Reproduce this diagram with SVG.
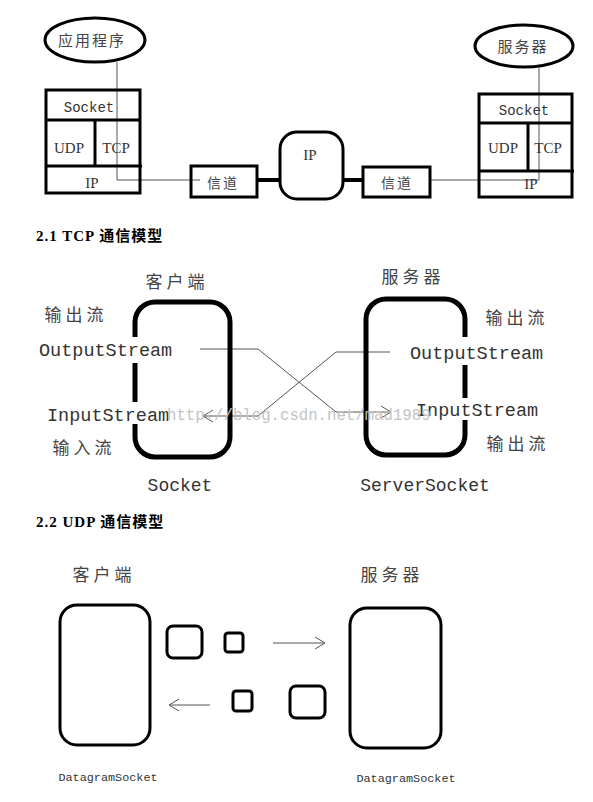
<svg xmlns="http://www.w3.org/2000/svg" width="593" height="802" viewBox="0 0 593 802">
<defs>
<style>
.thick{fill:none;stroke:#000;stroke-width:3}
.bold{fill:none;stroke:#000;stroke-width:5}
.thin{fill:none;stroke:#555;stroke-width:1}
.cj{font-family:"Noto Sans CJK SC",sans-serif;fill:#444}
.mono{font-family:"Liberation Mono",monospace;fill:#333}
.ser{font-family:"Liberation Serif",serif;fill:#333}
.head{font-family:"Liberation Serif","Noto Sans CJK SC",serif;font-weight:bold;font-size:15px;letter-spacing:1px;fill:#000}
.wm{font-family:"Liberation Mono",monospace;fill:#c4c4c4;font-size:15.7px}
</style>
<marker id="arr" markerWidth="12" markerHeight="14" refX="11" refY="7" orient="auto" markerUnits="userSpaceOnUse">
<path d="M1,1 L11,7 L1,13" fill="none" stroke="#555" stroke-width="1"/>
</marker>
</defs>
<rect width="593" height="802" fill="#fff"/>

<!-- connectors -->
<g id="connectors">
<polyline class="thin" points="117,62 117,180 200,180"/>
<polyline class="thin" points="430,180 539,180 539,68"/>
<line x1="257" y1="180" x2="280" y2="180" stroke="#000" stroke-width="4"/>
<line x1="343" y1="180" x2="363" y2="180" stroke="#000" stroke-width="4"/>
<polyline class="thin" points="200,349 258,349 336,412 391,412" marker-end="url(#arr)"/>
<polyline class="thin" points="390,352 336,352 258,416 203,416" marker-end="url(#arr)"/>
<line class="thin" x1="273" y1="643" x2="325" y2="643" marker-end="url(#arr)"/>
<line class="thin" x1="210" y1="705" x2="169" y2="705" marker-end="url(#arr)"/>
</g>

<!-- top diagram -->
<g id="app">
<ellipse cx="95" cy="40" rx="50" ry="22" class="thick"/>
<text x="92" y="46" class="cj" font-size="15" text-anchor="middle" letter-spacing="2">应用程序</text>
</g>
<g id="server-top">
<ellipse cx="524" cy="46" rx="49" ry="21" class="thick"/>
<text x="523" y="52" class="cj" font-size="15" text-anchor="middle" letter-spacing="2">服务器</text>
</g>
<g id="stack-left">
<rect x="46" y="90" width="94" height="103" class="thick"/>
<line x1="46" y1="120" x2="140" y2="120" class="thick"/>
<line x1="46" y1="166" x2="142" y2="166" class="thick"/>
<line x1="95" y1="120" x2="95" y2="166" class="thick"/>
<text x="89" y="112" class="mono" font-size="14" text-anchor="middle">Socket</text>
<text x="69" y="153" class="ser" font-size="15" text-anchor="middle">UDP</text>
<text x="116" y="153" class="ser" font-size="15" text-anchor="middle">TCP</text>
<text x="92" y="188" class="ser" font-size="15" text-anchor="middle">IP</text>
</g>
<g id="stack-right">
<rect x="479" y="94" width="93" height="103" class="thick"/>
<line x1="479" y1="123" x2="572" y2="123" class="thick"/>
<line x1="479" y1="171" x2="574" y2="171" class="thick"/>
<line x1="528" y1="123" x2="528" y2="171" class="thick"/>
<text x="524" y="115" class="mono" font-size="14" text-anchor="middle">Socket</text>
<text x="503" y="153" class="ser" font-size="15" text-anchor="middle">UDP</text>
<text x="548" y="153" class="ser" font-size="15" text-anchor="middle">TCP</text>
<text x="531" y="189" class="ser" font-size="15" text-anchor="middle">IP</text>
</g>
<g id="channel1">
<rect x="191" y="166" width="66" height="31" class="thick"/>
<text x="223" y="188" class="cj" font-size="14" text-anchor="middle" letter-spacing="2">信道</text>
</g>
<g id="ip-node">
<rect x="280" y="132" width="63" height="67" rx="17" class="thick"/>
<text x="310" y="160" class="ser" font-size="15" text-anchor="middle">IP</text>
</g>
<g id="channel2">
<rect x="363" y="167" width="67" height="30" class="thick"/>
<text x="397" y="188" class="cj" font-size="14" text-anchor="middle" letter-spacing="2">信道</text>
</g>

<text x="36" y="241" class="head">2.1 TCP 通信模型</text>

<!-- TCP -->
<g id="tcp-client">
<rect x="135" y="302" width="95" height="155" rx="20" class="bold"/>
<text x="177" y="288" class="cj" font-size="17" text-anchor="middle" letter-spacing="4">客户端</text>
<text x="76" y="321" class="cj" font-size="17" text-anchor="middle" letter-spacing="4">输出流</text>
<rect x="38" y="337" width="136" height="26" fill="#fff"/>
<text x="39" y="356" class="mono" font-size="18.5">OutputStream</text>
<rect x="46" y="402" width="123" height="22" fill="#fff"/>
<text x="47" y="421" class="mono" font-size="18.5">InputStream</text>
<text x="84" y="454" class="cj" font-size="17" text-anchor="middle" letter-spacing="4">输入流</text>
<text x="180" y="491" class="mono" font-size="18" text-anchor="middle">Socket</text>
</g>
<g id="tcp-server">
<rect x="366" y="299" width="99" height="156" rx="20" class="bold"/>
<text x="413" y="283" class="cj" font-size="17" text-anchor="middle" letter-spacing="4">服务器</text>
<text x="517" y="324" class="cj" font-size="17" text-anchor="middle" letter-spacing="4">输出流</text>
<rect x="405" y="337" width="140" height="28" fill="#fff"/>
<text x="410" y="359" class="mono" font-size="18.5">OutputStream</text>
<rect x="414" y="398" width="124" height="22" fill="#fff"/>
<text x="416" y="416" class="mono" font-size="18.5">InputStream</text>
<text x="518" y="450" class="cj" font-size="17" text-anchor="middle" letter-spacing="4">输出流</text>
<text x="425" y="491" class="mono" font-size="18" text-anchor="middle">ServerSocket</text>
</g>
<text x="167" y="420" class="wm">http://blog.csdn.net/mad1989</text>

<text x="36" y="527" class="head">2.2 UDP 通信模型</text>

<!-- UDP -->
<g id="udp-client">
<text x="104" y="581" class="cj" font-size="17" text-anchor="middle" letter-spacing="4" fill="#555">客户端</text>
<rect x="60" y="605" width="90" height="140" rx="17" class="thick" stroke-width="4.5"/>
<text x="108" y="781" class="mono" font-size="11.8" text-anchor="middle">DatagramSocket</text>
</g>
<g id="udp-server">
<text x="392" y="581" class="cj" font-size="17" text-anchor="middle" letter-spacing="4" fill="#555">服务器</text>
<rect x="350" y="608" width="91" height="140" rx="17" class="thick" stroke-width="4.5"/>
<text x="406" y="782" class="mono" font-size="11.8" text-anchor="middle">DatagramSocket</text>
</g>
<g id="packet1"><rect x="167" y="626" width="35" height="32" rx="6" class="thick" stroke-width="4"/></g>
<g id="packet2"><rect x="225" y="633" width="18" height="19" rx="3" class="thick"/></g>
<g id="packet3"><rect x="233" y="691" width="19" height="20" rx="3" class="thick"/></g>
<g id="packet4"><rect x="290" y="686" width="35" height="32" rx="6" class="thick" stroke-width="4"/></g>
</svg>
